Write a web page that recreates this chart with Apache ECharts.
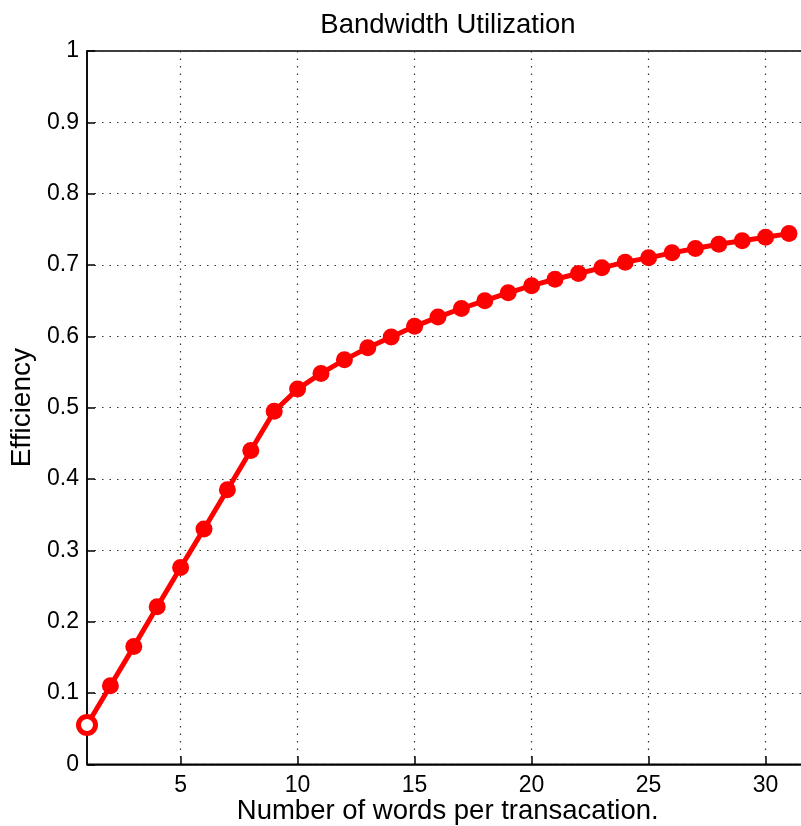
<!DOCTYPE html>
<html>
<head>
<meta charset="utf-8">
<script src="https://cdn.jsdelivr.net/npm/echarts@6/dist/echarts.min.js"></script>
<style>
  html, body { margin: 0; padding: 0; background: #fff; }
  #chart { width: 801px; height: 826px; }
</style>
</head>
<body>
<div id="chart"></div>
<script>
// words per transaction and measured efficiency
var words = [1, 2, 3, 4, 5, 6, 7, 8, 9, 10, 11, 12, 13, 14, 15, 16, 17, 18, 19, 20,
  21, 22, 23, 24, 25, 26, 27, 28, 29, 30, 31]
var efficiency = [0.055, 0.11, 0.165, 0.221, 0.276, 0.33, 0.385, 0.44, 0.495, 0.526,
  0.548, 0.567, 0.584, 0.599, 0.614, 0.627, 0.639, 0.65, 0.661, 0.671,
  0.68, 0.688, 0.696, 0.704, 0.71, 0.717, 0.723, 0.729, 0.734, 0.739, 0.744]
var xTicks = [5, 10, 15, 20, 25, 30]

var font = 'Liberation Sans, Arial, Helvetica, sans-serif'
var chart = echarts.init(document.getElementById('chart'))

var points = words.map(function (w, i) {
  var p = { value: [w, efficiency[i]] }
  if (i === 0) p.itemStyle = { color: '#fff', borderColor: '#ff0000', borderWidth: 5 } // first marker drawn open
  return p
})

var option = {
  animation: false,
  title: {
    text: 'Bandwidth Utilization',
    left: 443,
    top: 6,
    textAlign: 'center',
    textStyle: { fontFamily: font, fontSize: 27.5, fontWeight: 'normal', color: '#000' }
  },
  grid: {
    left: 87,
    top: 51,
    width: 725.4,
    height: 713.3,
    outerBoundsMode: 'none',
    containLabel: false,
    show: true,
    borderColor: '#000',
    borderWidth: 1.5,
    backgroundColor: '#fff'
  },
  xAxis: {
    type: 'value',
    min: 1,
    max: 32,
    interval: 1,
    name: 'Number of words per transacation.',
    nameLocation: 'middle',
    nameGap: 33,
    nameMoveOverlap: false,
    nameTextStyle: { fontFamily: font, fontSize: 27.5, color: '#000', padding: [0, 4, 0, 0] },
    axisLine: { show: true, onZero: false, lineStyle: { color: '#000', width: 1.5 } },
    axisTick: {
      show: true, inside: true, length: 8,
      customValues: xTicks,
      lineStyle: { color: '#000', width: 1.5 }
    },
    axisLabel: {
      customValues: xTicks,
      fontFamily: font, fontSize: 23, color: '#000', margin: 10
    },
    splitLine: {
      show: true,
      customValues: xTicks,
      lineStyle: { color: '#333', type: [1.5, 6], width: 1.2 }
    }
  },
  yAxis: {
    type: 'value',
    min: 0,
    max: 1,
    interval: 0.1,
    name: 'Efficiency',
    nameLocation: 'middle',
    nameGap: 49,
    nameRotate: 90,
    nameTextStyle: { fontFamily: font, fontSize: 28, color: '#000' },
    axisLine: { show: true, lineStyle: { color: '#000', width: 1.5 } },
    axisTick: { show: true, inside: true, length: 8, lineStyle: { color: '#000', width: 1.5 } },
    axisLabel: {
      fontFamily: font, fontSize: 23, color: '#000', margin: 8,
      formatter: function (v) { return String(Math.round(v * 10) / 10) }
    },
    splitLine: {
      show: true,
      lineStyle: { color: '#333', type: [1.5, 6], width: 1.2 }
    }
  },
  series: [{
    type: 'line',
    data: points,
    symbol: 'circle',
    symbolSize: 17,
    showAllSymbol: true,
    lineStyle: { color: '#ff0000', width: 5 },
    itemStyle: { color: '#ff0000' },
    clip: false
  }]
}

chart.setOption(option)
</script>
</body>
</html>
